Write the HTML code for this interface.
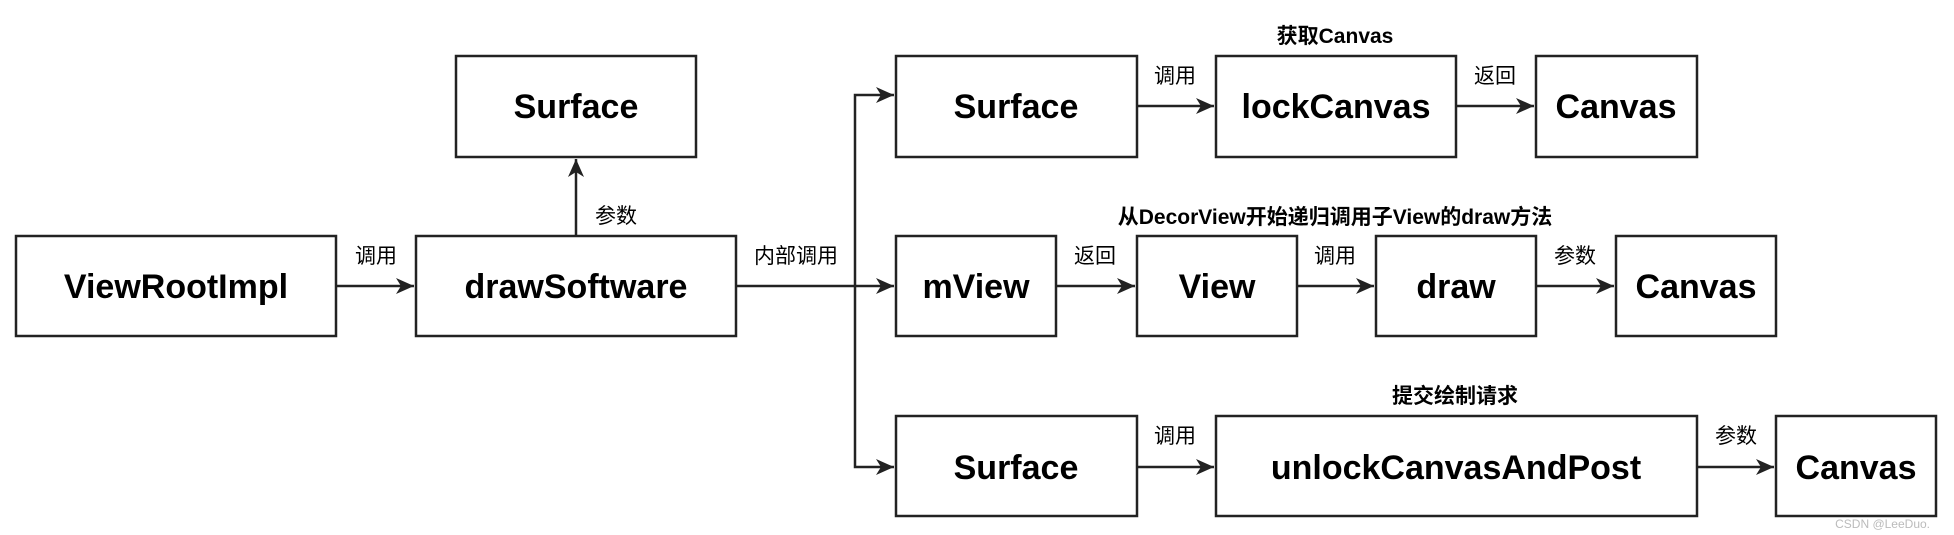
<!DOCTYPE html>
<html><head><meta charset="utf-8"><style>
html,body{margin:0;padding:0;background:#fff;}
svg{display:block;}
.b{font-family:"Liberation Sans","Noto Sans CJK SC",sans-serif;font-weight:bold;font-size:34px;fill:#000;}
.l{font-family:"Liberation Sans","Noto Sans CJK SC",sans-serif;font-size:21px;fill:#000;}
.t{font-family:"Liberation Sans","Noto Sans CJK SC",sans-serif;font-size:21px;font-weight:bold;fill:#000;}
rect{fill:#fff;stroke:#222;stroke-width:2.5;}
line,polyline{stroke:#222;stroke-width:2.5;fill:none;}
</style></head><body>
<svg width="1954" height="535" viewBox="0 0 1954 535" xmlns="http://www.w3.org/2000/svg">
<defs><marker id="a" markerWidth="10" markerHeight="10" refX="9" refY="5" orient="auto" markerUnits="userSpaceOnUse" viewBox="0 0 10 10">
<path d="M0,0 L10,5 L0,10 L3,5 Z" fill="#222"/></marker>
<marker id="h" markerWidth="20" markerHeight="20" refX="18" refY="10" orient="auto" markerUnits="userSpaceOnUse" viewBox="0 0 20 20"><path d="M0,2 L18,10 L0,18 L5,10 Z" fill="#222"/></marker></defs>

<!-- connectors -->
<line x1="336" y1="286" x2="414" y2="286" marker-end="url(#h)"/>
<line x1="576" y1="235" x2="576" y2="159" marker-end="url(#h)"/>
<line x1="736" y1="286" x2="894" y2="286" marker-end="url(#h)"/>
<polyline points="855,286 855,95 894,95" marker-end="url(#h)"/>
<polyline points="855,286 855,467 894,467" marker-end="url(#h)"/>
<line x1="1137" y1="106" x2="1214" y2="106" marker-end="url(#h)"/>
<line x1="1456" y1="106" x2="1534" y2="106" marker-end="url(#h)"/>
<line x1="1056" y1="286" x2="1135" y2="286" marker-end="url(#h)"/>
<line x1="1297" y1="286" x2="1374" y2="286" marker-end="url(#h)"/>
<line x1="1536" y1="286" x2="1614" y2="286" marker-end="url(#h)"/>
<line x1="1137" y1="467" x2="1214" y2="467" marker-end="url(#h)"/>
<line x1="1697" y1="467" x2="1774" y2="467" marker-end="url(#h)"/>

<!-- boxes -->
<rect x="16" y="236" width="320" height="100"/>
<rect x="416" y="236" width="320" height="100"/>
<rect x="456" y="56" width="240" height="101"/>
<rect x="896" y="56" width="241" height="101"/>
<rect x="1216" y="56" width="240" height="101"/>
<rect x="1536" y="56" width="161" height="101"/>
<rect x="896" y="236" width="160" height="100"/>
<rect x="1137" y="236" width="160" height="100"/>
<rect x="1376" y="236" width="160" height="100"/>
<rect x="1616" y="236" width="160" height="100"/>
<rect x="896" y="416" width="241" height="100"/>
<rect x="1216" y="416" width="481" height="100"/>
<rect x="1776" y="416" width="160" height="100"/>

<!-- box text -->
<g class="b" text-anchor="middle">
<text x="176" y="298">ViewRootImpl</text>
<text x="576" y="298">drawSoftware</text>
<text x="576" y="118">Surface</text>
<text x="1016" y="118">Surface</text>
<text x="1336" y="118">lockCanvas</text>
<text x="1616" y="118">Canvas</text>
<text x="976" y="298">mView</text>
<text x="1217" y="298">View</text>
<text x="1456" y="298">draw</text>
<text x="1696" y="298">Canvas</text>
<text x="1016" y="479">Surface</text>
<text x="1456" y="479">unlockCanvasAndPost</text>
<text x="1856" y="479">Canvas</text>
</g>

<!-- edge labels -->
<g class="l" text-anchor="middle">
<text x="376" y="263">调用</text>
<text x="616" y="223">参数</text>
<text x="796" y="263">内部调用</text>
<text x="1175" y="83">调用</text>
<text x="1495" y="83">返回</text>
<text x="1095" y="263">返回</text>
<text x="1335" y="263">调用</text>
<text x="1575" y="263">参数</text>
<text x="1175" y="443">调用</text>
<text x="1736" y="443">参数</text>
</g>
<g class="t" text-anchor="middle">
<text x="1335" y="43">获取Canvas</text>
<text x="1335" y="224">从DecorView开始递归调用子View的draw方法</text>
<text x="1455" y="403">提交绘制请求</text>
</g>
<text x="1930" y="528" text-anchor="end" style="font-family:'Liberation Sans',sans-serif;font-size:12px;fill:#bbb">CSDN @LeeDuo.</text>
</svg>
</body></html>
